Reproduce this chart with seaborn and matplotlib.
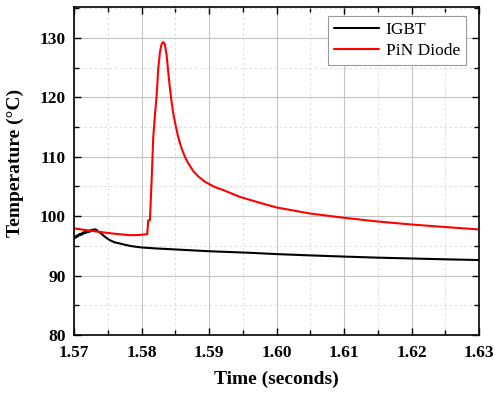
import matplotlib
matplotlib.use("Agg")
import matplotlib.pyplot as plt
from matplotlib.ticker import MultipleLocator, FormatStrFormatter
import seaborn as sns
import pandas as pd

# IGBT junction temperature
igbt_t = [1.5700, 1.5702, 1.5703, 1.5705, 1.5706, 1.5708, 1.5709, 1.5711, 1.5712,
          1.5714, 1.5715, 1.5717, 1.5718, 1.5720, 1.5721, 1.5723, 1.5724, 1.5726,
          1.5727, 1.5729, 1.5730, 1.5732, 1.5733, 1.5736, 1.5740, 1.5743, 1.5748,
          1.5753, 1.5760, 1.5768, 1.5775, 1.5783, 1.5790, 1.5800, 1.5820, 1.5850,
          1.5900, 1.5960, 1.6000, 1.6050, 1.6100, 1.6150, 1.6200, 1.6250, 1.6300]
igbt_v = [96.2, 96.6, 96.4, 96.8, 96.6, 97.0, 96.8, 97.1, 96.9,
          97.3, 97.1, 97.4, 97.2, 97.5, 97.3, 97.6, 97.4, 97.7,
          97.5, 97.8, 97.6, 97.8, 97.7, 97.4, 97.1, 96.8, 96.35,
          95.97, 95.6, 95.4, 95.2, 95.0, 94.88, 94.74, 94.58, 94.4,
          94.1, 93.84, 93.62, 93.4, 93.2, 93.02, 92.88, 92.74, 92.62]

# PiN diode junction temperature
pin_t = [1.5700, 1.5710, 1.5720, 1.5730, 1.5740, 1.5750, 1.5760, 1.5770, 1.5783,
         1.5795, 1.5807, 1.58085, 1.5810, 1.58125, 1.5815, 1.58174, 1.58199, 1.58224,
         1.58248, 1.58273, 1.58298, 1.58322, 1.58347, 1.58372, 1.58396, 1.58421, 1.58446,
         1.5847, 1.58505, 1.58544, 1.58594, 1.58643, 1.58692, 1.58766, 1.5884, 1.58939,
         1.59087, 1.5921, 1.59457, 1.59753, 1.6000, 1.6049, 1.6100, 1.6150, 1.6200,
         1.6250, 1.6300]
pin_v = [97.94, 97.78, 97.62, 97.47, 97.32, 97.18, 97.05, 96.93, 96.8,
         96.82, 96.95, 97.0, 99.3, 99.3, 106.1, 113.3, 117.0, 120.3,
         124.8, 127.6, 129.0, 129.3, 128.9, 127.1, 124.3, 121.5, 119.2,
         117.3, 115.3, 113.3, 111.4, 110.0, 108.9, 107.6, 106.7, 105.8,
         104.9, 104.4, 103.25, 102.25, 101.47, 100.46, 99.73, 99.1, 98.6,
         98.17, 97.77]

series_names = ["IGBT", "PiN Diode"]
series_colors = ["#000000", "#ff0000"]

df = pd.concat([
    pd.DataFrame({"t": igbt_t, "v": igbt_v, "s": series_names[0]}),
    pd.DataFrame({"t": pin_t, "v": pin_v, "s": series_names[1]}),
])

sns.set_style("ticks")
plt.rcParams["font.family"] = ["Liberation Serif", "DejaVu Serif"]
plt.rcParams["text.color"] = "black"
plt.rcParams["axes.labelcolor"] = "black"
plt.rcParams["xtick.color"] = "black"
plt.rcParams["ytick.color"] = "black"

fig = plt.figure(figsize=(4.95, 3.94), dpi=100)
ax = fig.add_axes([0.1495, 0.1497, 0.8182, 0.8325])

sns.lineplot(data=df, x="t", y="v", hue="s", palette=series_colors,
             estimator=None, sort=False, linewidth=1.5, ax=ax)

ax.set_xlim(1.57, 1.63)
ax.set_ylim(80, 135.2)
ax.xaxis.set_major_locator(MultipleLocator(0.01))
ax.xaxis.set_minor_locator(MultipleLocator(0.005))
ax.yaxis.set_major_locator(MultipleLocator(10))
ax.yaxis.set_minor_locator(MultipleLocator(5))
ax.xaxis.set_major_formatter(FormatStrFormatter("%.2f"))

ax.grid(which="major", color="#c4c4c4", linestyle="-", linewidth=0.8)
ax.grid(which="minor", color="#d8d8d8", linestyle=(0, (3, 3)), linewidth=0.6)
ax.set_axisbelow(True)

ax.tick_params(which="both", direction="in", top=True, right=True, width=1.0,
               color="black", labelcolor="black")
ax.tick_params(which="major", length=5)
ax.tick_params(which="minor", length=3.5)
ax.tick_params(axis="x", which="major", pad=7.5)
ax.tick_params(axis="y", which="major", pad=6)
for lab in ax.get_xticklabels() + ax.get_yticklabels():
    lab.set_fontweight("bold")
    lab.set_fontsize(12.5)
for sp in ax.spines.values():
    sp.set_linewidth(1.2)
    sp.set_color("black")

ax.set_xlabel("Time (seconds)", fontsize=14, fontweight="bold", labelpad=7, color="black")
ax.set_ylabel("Temperature (°C)", fontsize=14, fontweight="bold", color="black")
ax.yaxis.set_label_coords(-0.123, 0.524)

leg = ax.legend(loc="upper right", bbox_to_anchor=(0.968, 0.9735), fontsize=12.5,
                frameon=True, fancybox=False, framealpha=1, edgecolor="#999999",
                handlelength=2.6, handletextpad=0.4, borderpad=0.35, labelspacing=0.3,
                borderaxespad=0)
leg.get_frame().set_linewidth(0.8)
for line in leg.get_lines():
    line.set_linewidth(1.5)
for txt in leg.get_texts():
    txt.set_color("black")

fig.savefig("out.png", dpi=100)
